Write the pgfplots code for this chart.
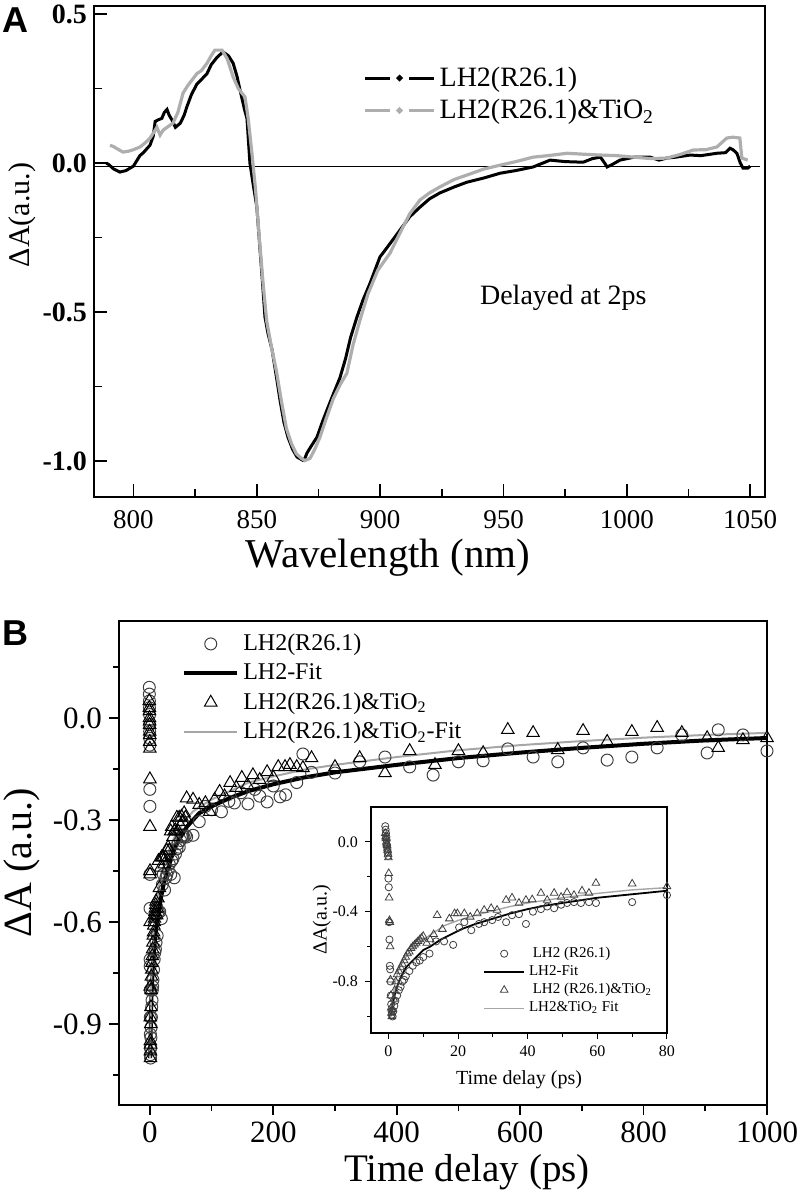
\documentclass[border=0pt]{standalone}
\usepackage{pgfplots}
\pgfplotsset{compat=1.18}
\usepackage{pgfplotstable}
\usepackage{fontspec}
\setmainfont{Liberation Serif}
\newfontfamily\sanslab{Liberation Sans}
\definecolor{lgray}{HTML}{AEAEAE}
\definecolor{fgray}{HTML}{A6A6A6}
\definecolor{cgray}{HTML}{404040}
\newcommand{\fs}[1]{\fontsize{#1}{#1}\selectfont}
\pgfplotsset{
  legA/.style={legend image code/.code={
    \draw[##1] (0pt,0pt) -- (12.5pt,0pt);
    \draw[##1] (22pt,0pt) -- (34.5pt,0pt);
    \fill[##1] (17.25pt,0pt) circle (0.7pt);}},
  mlegB/.style={legend image code/.code={\draw[##1] plot coordinates {(13.25pt,0pt)};}},
  llegB/.style={legend image code/.code={\draw[##1] (0pt,0pt) -- (26.5pt,0pt);}},
  mlegC/.style={legend image code/.code={\draw[##1] plot coordinates {(10pt,0pt)};}},
  llegC/.style={legend image code/.code={\draw[##1] (0pt,0pt) -- (20pt,0pt);}},
}

% Panel A spectra
\pgfplotstableread{
x y
789 0.0
790 -0.005
792 -0.02
794.5 -0.03
797 -0.025
800 -0.01
802.6 0.025
804 0.035
806.7 0.06
808 0.09
808.8 0.14
810 0.145
811.5 0.15
812.5 0.17
813.6 0.18
814.5 0.16
815.6 0.145
817 0.12
819 0.134
820.5 0.16
821.7 0.19
823.5 0.23
825.7 0.265
827.5 0.28
829.8 0.30
831.5 0.33
833.9 0.355
836.3 0.373
838.5 0.36
840.4 0.335
842 0.29
843.2 0.245
845 0.18
846 0.15
847.2 0.0
848.5 -0.07
850 -0.147
851.3 -0.29
852.3 -0.40
853.3 -0.516
854.5 -0.57
856.2 -0.627
858 -0.72
859.4 -0.795
861 -0.87
862.6 -0.919
864.5 -0.96
866.3 -0.986
868.7 -0.997
869.5 -0.99
870.3 -0.973
872 -0.95
874.4 -0.919
876.5 -0.87
878.4 -0.829
881 -0.775
883.7 -0.72
886 -0.655
888 -0.585
890.6 -0.516
893 -0.46
895.9 -0.403
899.9 -0.315
904 -0.27
908 -0.225
912 -0.18
916.1 -0.148
920 -0.12
924.2 -0.1
930 -0.08
935.2 -0.064
942 -0.05
948.6 -0.034
955 -0.025
962 -0.013
968.9 0.01
975 0.005
982.3 0.003
986 0.015
989.3 0.02
991 0.0
992 -0.013
994 -0.005
997.2 0.01
1003 0.02
1009.4 0.02
1013 0.01
1016.3 0.017
1020 0.02
1025.6 0.027
1030 0.025
1036.5 0.033
1040 0.035
1041.8 0.05
1043 0.045
1044.6 0.033
1046 0.0
1047.1 -0.017
1049 -0.017
1050 -0.01
}\specA

\pgfplotstableread{
x y
790.5 0.06
792 0.055
794 0.045
795.8 0.037
798 0.04
800 0.045
802.7 0.054
805 0.07
806.7 0.084
808 0.10
809.5 0.12
810.8 0.094
812 0.11
813.6 0.12
816 0.134
818 0.17
820.1 0.235
822 0.26
825.7 0.30
827.5 0.31
829.8 0.335
831.5 0.36
833 0.379
835.9 0.379
838 0.35
840.4 0.289
842.5 0.25
845.2 0.222
846.5 0.15
848 0.034
849.5 -0.09
851 -0.25
852.5 -0.40
854 -0.53
856 -0.62
858 -0.70
860 -0.80
862 -0.89
864 -0.94
866 -0.975
868 -0.99
869.5 -0.998
871.6 -0.99
873.5 -0.96
875.6 -0.919
878 -0.86
881 -0.79
884 -0.74
886.5 -0.705
889 -0.61
891.8 -0.527
895 -0.44
899 -0.36
904 -0.302
908 -0.235
912 -0.17
916.1 -0.124
920 -0.10
924.2 -0.08
930 -0.055
935.2 -0.04
942 -0.02
948.6 -0.007
955 0.005
962 0.02
968 0.025
975.8 0.033
982 0.03
989.3 0.027
996 0.025
1002.7 0.02
1010 0.015
1016.3 0.017
1022 0.03
1026.9 0.044
1032 0.045
1036.5 0.054
1040.5 0.084
1043 0.087
1045.8 0.084
1046.6 0.017
1049 0.01
}\specB

% Panel B kinetics: LH2 (circles)
\pgfplotstableread{
t y
-0.9 0.09
-0.8 0.07
-0.7 0.05
-0.6 0.03
-0.5 0.01
-0.4 -0.02
-0.3 -0.04
-0.2 -0.06
-0.1 -0.08
0 -0.21
0.1 -0.26
0.2 -0.46
0.3 -0.56
0.4 -0.71
0.5 -0.73
0.6 -0.80
0.7 -0.88
0.8 -0.93
0.9 -0.97
1.0 -0.99
1.2 -1.0
1.4 -0.97
1.7 -0.94
2.0 -0.91
2.5 -0.88
3.0 -0.85
3.5 -0.83
4.0 -0.80
4.5 -0.79
5.0 -0.77
6.0 -0.74
7.0 -0.71
8.0 -0.69
9.0 -0.68
10 -0.66
11.8 -0.64
13.7 -0.57
16 -0.57
18.6 -0.59
20.3 -0.49
21.8 -0.46
23.8 -0.506
26 -0.47
27.5 -0.46
29.8 -0.448
31.5 -0.43
33.8 -0.46
35.5 -0.42
37.5 -0.414
39.5 -0.47
41.5 -0.40
43.8 -0.385
45.6 -0.37
47.6 -0.38
49.6 -0.36
51.3 -0.35
53.3 -0.345
55.3 -0.35
57.6 -0.345
59.6 -0.35
70 -0.345
80 -0.305
90 -0.26
100 -0.27
116 -0.276
128 -0.245
137 -0.25
148 -0.22
159 -0.253
170 -0.21
178 -0.23
190 -0.247
200 -0.2
211 -0.232
220 -0.226
238 -0.19
248 -0.106
262 -0.16
300 -0.162
340 -0.129
381 -0.115
421 -0.144
459 -0.168
500 -0.129
540 -0.126
580 -0.091
621 -0.115
661 -0.129
702 -0.088
741 -0.124
781 -0.115
822 -0.088
862 -0.05
903 -0.103
921 -0.035
961 -0.05
1000 -0.097
}\kinA

% LH2 & TiO2 (triangles)
\pgfplotstableread{
t y
-0.9 0.05
-0.8 0.03
-0.7 0.02
-0.6 0.0
-0.5 -0.01
-0.4 -0.02
-0.3 -0.04
-0.2 -0.05
-0.1 -0.07
0.0 -0.09
0.1 -0.18
0.2 -0.32
0.3 -0.45
0.4 -0.46
0.5 -0.6
0.6 -0.79
0.7 -0.88
0.8 -0.95
0.9 -0.98
1.0 -1.0
1.2 -0.96
1.5 -0.9
1.8 -0.85
2.1 -0.8
2.5 -0.76
3 -0.74
3.5 -0.72
4 -0.7
4.5 -0.68
5 -0.66
5.5 -0.64
6 -0.63
6.5 -0.61
7 -0.6
7.5 -0.59
8 -0.58
8.5 -0.57
9 -0.56
9.5 -0.55
10 -0.54
11 -0.58
12 -0.56
13 -0.53
14 -0.42
15.5 -0.5
17.5 -0.44
19 -0.41
19.8 -0.41
21.8 -0.41
23.5 -0.43
25.5 -0.41
27.5 -0.39
29.5 -0.38
31.2 -0.39
33.8 -0.333
35.5 -0.32
37.5 -0.35
39.5 -0.333
41.3 -0.33
43.8 -0.293
45.6 -0.333
47.6 -0.293
49.6 -0.316
51.3 -0.29
53.3 -0.305
55.6 -0.28
57.6 -0.293
59.6 -0.236
70 -0.24
80 -0.255
90 -0.25
97 -0.276
105 -0.24
113 -0.217
121 -0.23
130 -0.191
140 -0.205
149 -0.176
158 -0.197
167 -0.168
178 -0.182
190 -0.159
200 -0.175
208 -0.144
219 -0.144
227 -0.138
238 -0.144
248 -0.147
262 -0.118
300 -0.144
340 -0.118
381 -0.162
421 -0.097
462 -0.138
500 -0.097
540 -0.103
580 -0.035
621 -0.044
661 -0.094
702 -0.038
741 -0.07
781 -0.041
822 -0.029
862 -0.044
903 -0.059
921 -0.088
961 -0.065
1000 -0.059
}\kinB

\pgfplotstableread{
t y
0.6 -1.0
1 -0.95
2 -0.86
3 -0.80
4 -0.76
5 -0.72
6 -0.70
8 -0.66
10 -0.62
12 -0.60
15 -0.56
18 -0.53
21 -0.50
25 -0.47
30 -0.44
35 -0.41
40 -0.385
45 -0.365
50 -0.35
55 -0.335
60 -0.32
70 -0.30
80 -0.28
100 -0.26
130 -0.235
160 -0.215
200 -0.195
250 -0.175
300 -0.16
400 -0.138
500 -0.118
600 -0.102
700 -0.088
800 -0.076
900 -0.066
1000 -0.059
}\fitA

\pgfplotstableread{
t y
0.5 -1.0
1 -0.92
2 -0.80
3 -0.73
4 -0.69
5 -0.66
6 -0.63
8 -0.59
10 -0.56
13 -0.52
16 -0.48
20 -0.45
25 -0.42
30 -0.395
35 -0.37
40 -0.35
50 -0.32
60 -0.295
70 -0.275
80 -0.262
100 -0.24
130 -0.215
160 -0.19
200 -0.172
250 -0.152
300 -0.138
400 -0.115
500 -0.095
600 -0.08
700 -0.068
800 -0.058
900 -0.05
1000 -0.044
}\fitB

\begin{document}
\begin{tikzpicture}
\useasboundingbox (0,0) rectangle (400pt,600pt);

% ---------------- Panel A ----------------
\begin{axis}[
  at={(47pt,351.5pt)}, anchor=south west, scale only axis,
  width=335.5pt, height=245.5pt,
  xmin=784, xmax=1056, ymin=-1.12, ymax=0.527,
  xtick={800,850,...,1050}, minor xtick={825,875,...,1025},
  ytick={-1,-0.5,0,0.5}, yticklabels={-1.0,-0.5,0.0,0.5},
  minor ytick={-0.75,-0.25,0.25},
  tick pos=left, tick align=inside,
  major tick length=6.5pt, minor tick length=4pt,
  every tick/.style={black, line width=0.8pt},
  axis line style={line width=0.9pt},
  /pgf/number format/assume math mode=true,
  /pgf/number format/set thousands separator={},
  x tick label style={font=\fs{13.5}, yshift=-3pt},
  y tick label style={font=\fs{14}\bfseries},
  legend style={at={(0.401,0.885)}, anchor=north west, draw=none, fill=none,
    font=\fs{14}, inner sep=0pt, row sep=1pt,
    /tikz/every odd column/.append style={column sep=0pt}},
  legend cell align=left,
  legA,
]
\addplot[black, line width=0.5pt, forget plot] coordinates {(784,-0.013) (1054,-0.013)};
\addplot[black, line width=1.5pt] table[x=x,y=y] {\specA};
\addlegendentry{LH2(R26.1)}
\addplot[lgray, line width=1.6pt] table[x=x,y=y] {\specB};
\addlegendentry{LH2(R26.1)\&TiO\textsubscript{2}}
\end{axis}
\node[font=\sanslab\bfseries\fs{18}] at ({15*0.5pt},{(1200-20)*0.5pt}) {A};
\node[font=\fs{14}, anchor=west] at ({473*0.5pt},{(1200-298)*0.5pt}) {Delayed at 2ps};
\node[font=\fs{20.5}] at ({388*0.5pt},{(1200-558)*0.5pt}) {Wavelength (nm)};
\node[font=\fs{15}, rotate=90] at ({22*0.5pt},{(1200-215)*0.5pt}) {ΔA(a.u.)};

% ---------------- Panel B ----------------
\begin{axis}[
  at={(59.5pt,47.5pt)}, anchor=south west, scale only axis,
  width=324pt, height=242pt,
  xmin=-50, xmax=1000, ymin=-1.138, ymax=0.285,
  xtick={0,200,...,1000}, minor xtick={100,300,...,900},
  ytick={-0.9,-0.6,-0.3,0}, yticklabels={-0.9,-0.6,-0.3,0.0},
  minor ytick={-1.05,-0.75,-0.45,-0.15,0.15},
  tick pos=left, tick align=outside,
  major tick length=5pt, minor tick length=3pt,
  every tick/.style={black, line width=0.8pt},
  axis line style={line width=0.9pt},
  /pgf/number format/assume math mode=true,
  /pgf/number format/set thousands separator={},
  x tick label style={font=\fs{15.5}},
  y tick label style={font=\fs{15.5}},
  legend style={at={(0.097,0.982)}, anchor=north west, draw=none, fill=none,
    font=\fs{12}, inner sep=0pt, row sep=1pt,
    /tikz/every odd column/.append style={column sep=0pt}},
  legend cell align=left,
]
\addplot[only marks, mark=o, mark size=3pt, mark options={cgray, line width=0.5pt}, mlegB]
  table[x=t,y=y] {\kinA};
\addlegendentry{LH2(R26.1)}
\addplot[black, line width=2pt, no marks, llegB]
  table[x=t,y=y] {\fitA};
\addlegendentry{LH2-Fit}
\addplot[only marks, mark=triangle, mark size=3.6pt, mark options={black, line width=0.5pt}, mlegB]
  table[x=t,y=y] {\kinB};
\addlegendentry{LH2(R26.1)\&TiO\textsubscript{2}}
\addplot[fgray, line width=1pt, no marks, llegB]
  table[x=t,y=y] {\fitB};
\addlegendentry{LH2(R26.1)\&TiO\textsubscript{2}-Fit}
\end{axis}
\node[font=\sanslab\bfseries\fs{18}] at ({15*0.5pt},{(1200-633)*0.5pt}) {B};
\node[font=\fs{19.5}] at ({467*0.5pt},{(1200-1172)*0.5pt}) {Time delay (ps)};
\node[font=\fs{20}, rotate=90] at ({22*0.5pt},{(1200-863)*0.5pt}) {ΔA (a.u.)};

% ---------------- Inset ----------------
\begin{axis}[
  at={(185.5pt,83.5pt)}, anchor=south west, scale only axis,
  width=148pt, height=113pt,
  axis background/.style={fill=white},
  xmin=-5, xmax=80, ymin=-1.095, ymax=0.2,
  xtick={0,20,...,80}, minor xtick={10,30,...,70},
  ytick={-0.8,-0.4,0}, yticklabels={-0.8,-0.4,0.0},
  minor ytick={-1.0,-0.6,-0.2},
  tick pos=left, tick align=outside,
  major tick length=3pt, minor tick length=2pt,
  every tick/.style={black, line width=0.5pt},
  axis line style={line width=0.7pt},
  /pgf/number format/assume math mode=true,
  x tick label style={font=\fs{8}},
  y tick label style={font=\fs{8}},
  xlabel={Time delay (ps)}, ylabel={ΔA(a.u.)},
  xlabel style={font=\fs{10}},
  ylabel style={font=\fs{10}, yshift=-6pt},
  legend style={at={(0.378,0.4)}, anchor=north west, draw=none, fill=none,
    font=\fs{7.5}, inner sep=0pt, row sep=-1.5pt,
    /tikz/every odd column/.append style={column sep=0pt}},
  legend cell align=left,
]
\addplot[only marks, mark=o, mark size=1.8pt, mark options={cgray, line width=0.4pt}, mlegC]
  table[x=t,y=y] {\kinA};
\addlegendentry{\ LH2 (R26.1)}
\addplot[black, line width=0.9pt, no marks, llegC]
  table[x=t,y=y] {\fitA};
\addlegendentry{LH2-Fit}
\addplot[only marks, mark=triangle, mark size=2.2pt, mark options={cgray, line width=0.4pt}, mlegC]
  table[x=t,y=y] {\kinB};
\addlegendentry{\ LH2 (R26.1)\&TiO\textsubscript{2}}
\addplot[fgray, line width=0.7pt, no marks, llegC]
  table[x=t,y=y] {\fitB};
\addlegendentry{LH2\&TiO\textsubscript{2} Fit}
\end{axis}
\end{tikzpicture}
\end{document}
